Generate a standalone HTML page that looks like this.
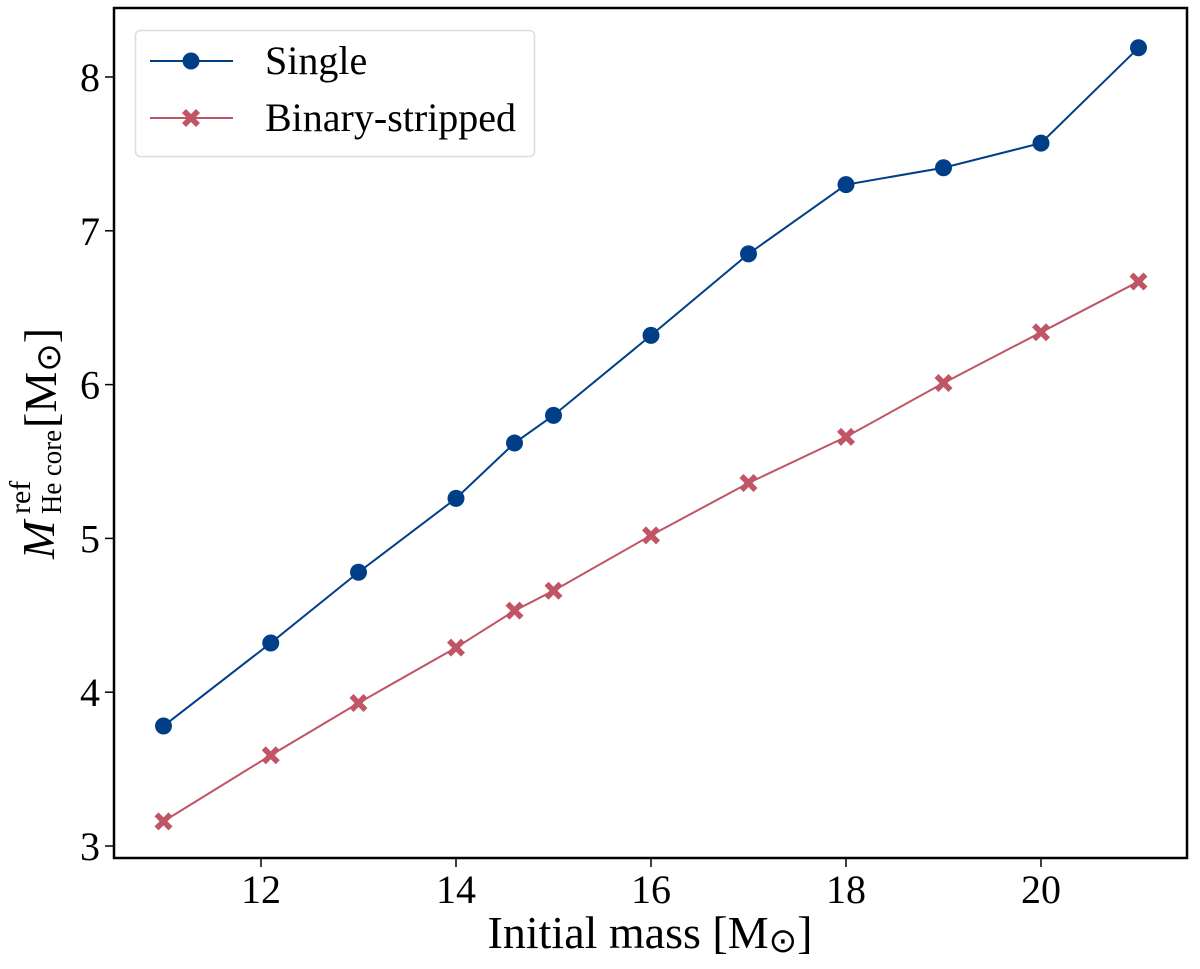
<!DOCTYPE html>
<html><head><meta charset="utf-8"><style>
html,body{margin:0;padding:0;background:#fff;}
svg text{font-family:"Liberation Serif",serif;fill:#000;}
</style></head><body>
<svg id="chart" width="1200" height="964" viewBox="0 0 1200 964">
<g id="marks"></g>
<rect x="114" y="8" width="1073" height="850" fill="none" stroke="#000" stroke-width="2.5"/>
<g id="ticks"></g>
<text x="650" y="948" font-size="46" text-anchor="middle">Initial mass [M<tspan font-size="34" dy="4">⊙</tspan><tspan dy="-4">]</tspan></text>
<g transform="rotate(-90)">
<text x="-559" y="54" font-size="46" font-style="italic">M</text>
<text x="-514" y="30" font-size="30">ref</text>
<text x="-514" y="61" font-size="29" textLength="84" lengthAdjust="spacingAndGlyphs">He core</text>
<text x="-428" y="56" font-size="46">[M<tspan font-size="34" dy="4">⊙</tspan><tspan dy="-4">]</tspan></text>
</g>
<g>
<rect x="135.5" y="30.5" width="399" height="126" rx="5" fill="#fff" stroke="#ddd" stroke-width="1.5"/>
<g>
<line x1="150" y1="61" x2="233" y2="61" stroke="#003f88" stroke-width="2"/>
<circle cx="191" cy="61" r="8.5" fill="#003f88"/>
<text x="265" y="74" font-size="40">Single</text></g>
<g>
<line x1="150" y1="118" x2="233" y2="118" stroke="#c05566" stroke-width="2"/>
<path d="M-9,-5 L-5,-9 L0,-4 L5,-9 L9,-5 L4,0 L9,5 L5,9 L0,4 L-5,9 L-9,5 L-4,0 Z" transform="translate(191,118)" fill="#c05566"/>
<text x="265" y="131" font-size="40">Binary-stripped</text></g>
</g>
</svg>
<script>
const masses = [11, 12.1, 13, 14, 14.6, 15, 16, 17, 18, 19, 20, 21];
const singleVals = [3.78, 4.32, 4.78, 5.26, 5.62, 5.80, 6.32, 6.85, 7.30, 7.41, 7.57, 8.19];
const binaryVals = [3.16, 3.59, 3.93, 4.29, 4.53, 4.66, 5.02, 5.36, 5.66, 6.01, 6.34, 6.67];
const xTicks = [12, 14, 16, 18, 20];
const yTicks = [3, 4, 5, 6, 7, 8];
const NS = 'http://www.w3.org/2000/svg';
function xs(v){return 261 + (v-12)*97.5;}
function ys(v){return 846 - (v-3)*153.8;}
const marks = document.getElementById('marks');
const ticks = document.getElementById('ticks');
function mk(tag, attrs, parent){const e=document.createElementNS(NS,tag);for(const k in attrs)e.setAttribute(k,attrs[k]);parent.appendChild(e);return e;}
function series(vals, color, name, marker){
  const pts = masses.map((m,i)=>xs(m)+','+ys(vals[i])).join(' ');
  const pl = mk('polyline',{points:pts,fill:'none',stroke:color,'stroke-width':2},marks);
  
  
  masses.forEach((m,i)=>{
    let e;
    if(marker==='circle'){ e = mk('circle',{cx:xs(m),cy:ys(vals[i]),r:8.5,fill:color},marks); }
    else { e = mk('path',{d:'M-9,-5 L-5,-9 L0,-4 L5,-9 L9,-5 L4,0 L9,5 L5,9 L0,4 L-5,9 L-9,5 L-4,0 Z',transform:'translate('+xs(m)+','+ys(vals[i])+')',fill:color},marks); }
    
    
  });
}
series(singleVals,'#003f88','single','circle');
series(binaryVals,'#c05566','binary','x');
xTicks.forEach(t=>{
  const l = mk('line',{x1:xs(t),x2:xs(t),y1:858,y2:867,stroke:'#000','stroke-width':1.5},ticks);
  
  
  const tx = mk('text',{x:xs(t),y:903,'font-size':40,'text-anchor':'middle'},ticks);
  tx.textContent = t;
  
  
});
yTicks.forEach(t=>{
  const l = mk('line',{x1:105,x2:114,y1:ys(t),y2:ys(t),stroke:'#000','stroke-width':1.5},ticks);
  
  
  const tx = mk('text',{x:100,y:ys(t)+14,'font-size':40,'text-anchor':'end'},ticks);
  tx.textContent = t;
  
  
});
</script>
</body></html>
